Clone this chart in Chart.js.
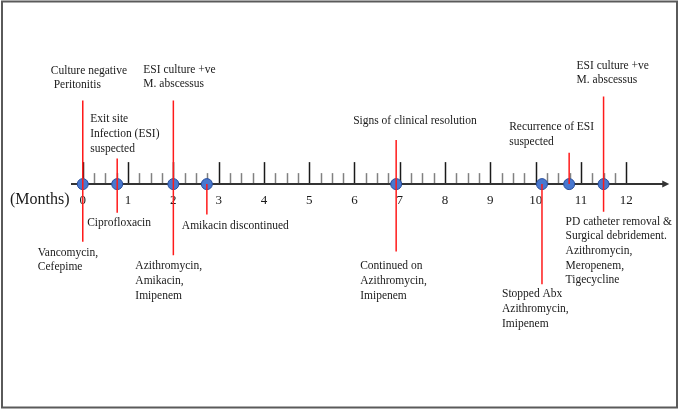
<!DOCTYPE html>
<html>
<head>
<meta charset="utf-8">
<script src="https://cdn.jsdelivr.net/npm/chart.js@4.4.1/dist/chart.umd.min.js"></script>
<style>
    html, body { margin: 0; padding: 0; background: #fff; }
    #wrap { width: 678px; height: 409px; }
</style>
</head>
<body>
<div id="wrap"><canvas id="timeline" width="678" height="409"></canvas></div>
<script>
// ================ timeline data ================
const eventMonths = [0, 0.76, 2.0, 2.74, 6.92, 10.14, 10.74, 11.5];

// stem ends, in text-line units above (+) / below (-) the axis
const stemTop    = [5.75, 1.76, 5.75, 0, 3.03, 0, 2.16, 6.02];
const stemBottom = [-3.96, -1.96, -4.89, -2.09, -4.62, -6.88, 0, -1.89];

const topLabels = [
    ["Culture negative", " Peritonitis"],
    ["Exit site", "Infection (ESI)", "suspected"],
    ["ESI culture +ve", "M. abscessus"],
    [],
    ["Signs of clinical resolution"],
    [],
    ["Recurrence of ESI", "suspected"],
    ["ESI culture +ve", "M. abscessus"]
];

const bottomLabels = [
    ["Vancomycin,", "Cefepime"],
    ["Ciprofloxacin"],
    ["Azithromycin,", "Amikacin,", "Imipenem"],
    ["Amikacin discontinued"],
    ["Continued on", "Azithromycin,", "Imipenem"],
    ["Stopped Abx", "Azithromycin,", "Imipenem"],
    [],
    ["PD catheter removal &", "Surgical debridement.", "Azithromycin,", "Meropenem,", "Tigecycline"]
];

const monthTicks = [0, 1, 2, 3, 4, 5, 6, 7, 8, 9, 10, 11, 12];
const minorStep = 0.25;
const axisStart = -0.26;
const axisEnd = 12.95;

// ================ layout (pixels, kept apart from the data) ================
const topLayout    = [[-32, 15], [-27, 10], [-30, 16], null, [-43, 19], null, [-60, 11], [-27, 16]];
const bottomLayout = [[-45, 11], [-30, 10], [-38, 11], [-25, 11], [-36, 15], [-40, 10], null, [-38, 10]];

const serif = '"Liberation Serif", "Times New Roman", serif';
const lineGap = 14.7;

// ================ drawing helpers ================
const timelinePlugin = {
    id: 'timeline',
    beforeDatasetsDraw(chart) {
        const ctx = chart.ctx;
        const xs = chart.scales.x;
        const ys = chart.scales.y;
        const y0 = ys.getPixelForValue(0);

        ctx.save();
        // minor ticks
        ctx.strokeStyle = '#808080';
        ctx.lineWidth = 1.5;
        for (let m = 0; m <= 12 + 1e-6; m += minorStep) {
            if (Math.abs(m - Math.round(m)) < 1e-6) continue;
            const px = Math.round(xs.getPixelForValue(m)) + 0.5;
            ctx.beginPath();
            ctx.moveTo(px, y0);
            ctx.lineTo(px, y0 - 11);
            ctx.stroke();
        }
        // major ticks
        ctx.strokeStyle = '#1a1a1a';
        monthTicks.forEach(m => {
            const px = Math.round(xs.getPixelForValue(m)) + 0.5;
            ctx.beginPath();
            ctx.moveTo(px, y0);
            ctx.lineTo(px, y0 - 22);
            ctx.stroke();
        });
        // axis line + arrow
        const xa = xs.getPixelForValue(axisStart);
        const xb = xs.getPixelForValue(axisEnd);
        ctx.strokeStyle = '#333';
        ctx.lineWidth = 2;
        ctx.beginPath();
        ctx.moveTo(xa, y0);
        ctx.lineTo(xb - 5, y0);
        ctx.stroke();
        ctx.fillStyle = '#333';
        ctx.beginPath();
        ctx.moveTo(xb, y0);
        ctx.lineTo(xb - 7, y0 - 3.5);
        ctx.lineTo(xb - 7, y0 + 3.5);
        ctx.closePath();
        ctx.fill();

        // month numbers
        ctx.fillStyle = '#1a1a1a';
        ctx.font = '13px ' + serif;
        ctx.textAlign = 'center';
        ctx.textBaseline = 'middle';
        monthTicks.forEach(m => {
            ctx.fillText(String(m), xs.getPixelForValue(m), y0 + 16);
        });
        ctx.font = '16px ' + serif;
        ctx.textAlign = 'left';
        ctx.fillText('(Months)', 10, y0 + 16);
        ctx.restore();
    },
    afterDraw(chart) {
        const ctx = chart.ctx;
        const xs = chart.scales.x;
        const ys = chart.scales.y;

        ctx.save();
        ctx.fillStyle = '#1a1a1a';
        ctx.font = '11.5px ' + serif;
        ctx.textAlign = 'left';
        ctx.textBaseline = 'middle';

        eventMonths.forEach((m, i) => {
            const sx = xs.getPixelForValue(m);
            const top = topLabels[i];
            if (top.length && topLayout[i]) {
                const [dx, gap] = topLayout[i];
                const lastY = ys.getPixelForValue(stemTop[i]) - gap;
                top.forEach((t, k) => {
                    ctx.fillText(t, sx + dx, lastY - (top.length - 1 - k) * lineGap);
                });
            }
            const bot = bottomLabels[i];
            if (bot.length && bottomLayout[i]) {
                const [dx, gap] = bottomLayout[i];
                const firstY = ys.getPixelForValue(stemBottom[i]) + gap;
                bot.forEach((t, k) => {
                    ctx.fillText(t, sx + dx, firstY + k * lineGap);
                });
            }
        });

        // frame
        ctx.strokeStyle = '#5a5a5a';
        ctx.lineWidth = 2;
        ctx.strokeRect(2, 1.5, chart.width - 3, chart.height - 3);
        ctx.restore();
    }
};

// ================ chart ================
const stemSets = eventMonths.map((m, i) => ({
    type: 'line',
    data: [{ x: m, y: stemTop[i] }, { x: m, y: stemBottom[i] }],
    borderColor: '#ff1a1a',
    borderWidth: 1.5,
    pointRadius: 0,
    fill: false
}));

const dotSet = {
    type: 'scatter',
    data: eventMonths.map(m => ({ x: m, y: 0 })),
    backgroundColor: '#4878d0',
    borderColor: '#2b4f9c',
    borderWidth: 1,
    pointRadius: 5.5
};

new Chart(document.getElementById('timeline'), {
    type: 'scatter',
    data: { datasets: [...stemSets, dotSet] },
    options: {
        responsive: false,
        devicePixelRatio: 1,
        animation: false,
        events: [],
        layout: { padding: { left: 71, right: 4.8, top: 0, bottom: 0 } },
        plugins: { legend: { display: false }, tooltip: { enabled: false } },
        scales: {
            x: { type: 'linear', min: -0.26, max: 13, display: false },
            y: { type: 'linear', min: -15, max: 12.2, display: false }
        }
    },
    plugins: [timelinePlugin]
});
</script>
</body>
</html>
